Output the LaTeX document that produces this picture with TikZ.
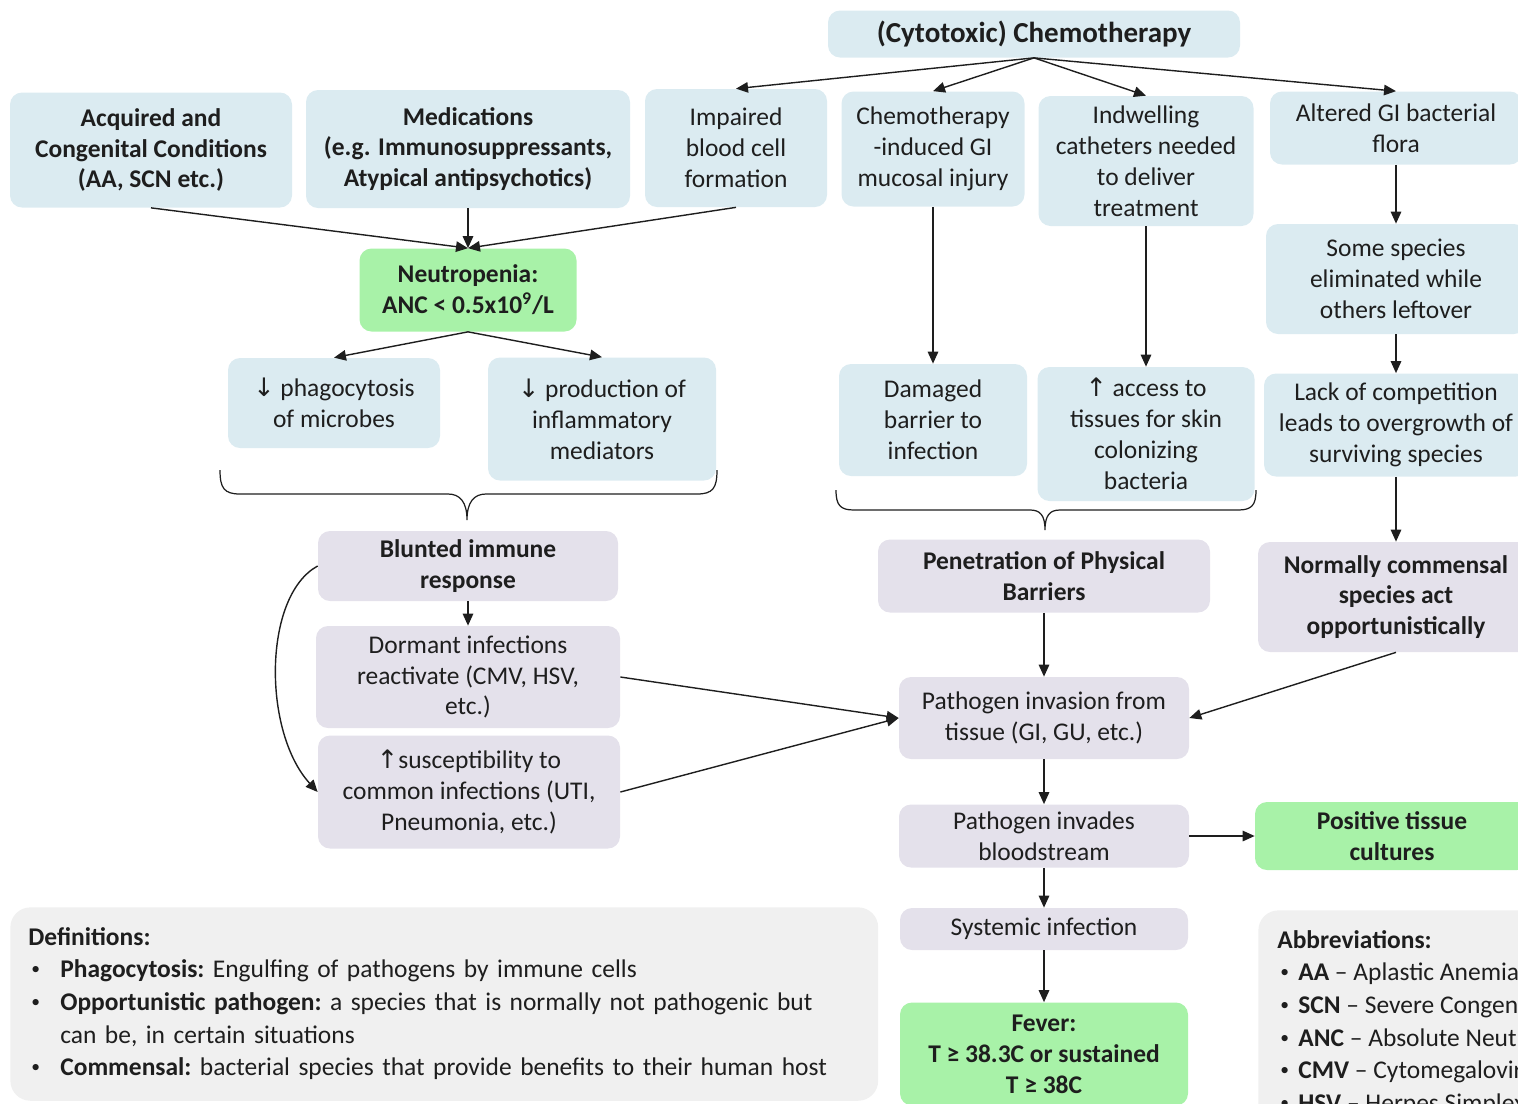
\documentclass[tikz,border=0pt]{standalone}
\usepackage{fontspec}
\setmainfont{Carlito}
\newfontfamily\dvsans{DejaVu Sans}
\usetikzlibrary{arrows.meta}

\definecolor{boxblue}{HTML}{DBEBF1}
\definecolor{boxpurple}{HTML}{E4E1EB}
\definecolor{boxgreen}{HTML}{A8F2A8}
\definecolor{boxgray}{HTML}{F0F0F0}
\definecolor{inkdark}{HTML}{1E1E1E}

\newcommand{\dn}{{\dvsans\char"2193}}
\newcommand{\up}{{\dvsans\char"2191}}
\newcommand{\bul}{\raisebox{0.12em}{\fontsize{10}{10}\selectfont\textbullet}}

\tikzset{
  box/.style={rounded corners=0.24cm, inner sep=0pt, align=center, text=inkdark,
    font=\fontsize{14.5}{17.6}\selectfont},
  bold/.style={font=\fontsize{14.5}{17.6}\selectfont\bfseries},
  bluebox/.style={box, fill=boxblue},
  purplebox/.style={box, fill=boxpurple},
  greenbox/.style={box, fill=boxgreen, bold},
  graybox/.style={rounded corners=0.4cm, fill=boxgray, text=inkdark, align=left,
    inner xsep=0.36cm, inner ysep=0.3cm, font=\fontsize{14.5}{18.6}\selectfont\frenchspacing},
  sz/.style 2 args={minimum width=#1*0.02cm, minimum height=#2*0.02cm},
  arr/.style={-{Triangle[length=0.24cm,width=0.21cm]}, line width=0.8pt, draw=inkdark},
  bracestyle/.style={line width=0.7pt, draw=inkdark},
}

\begin{document}
\begin{tikzpicture}[x=0.02cm, y=-0.02cm]
  \useasboundingbox (0,0) rectangle (1518,1103);

  % Top cause
  \node[bluebox, sz={412}{47}, font=\fontsize{16.5}{20}\selectfont\bfseries] (chemo) at (1034,34) {(Cytotoxic) Chemotherapy};

  % First row
  \node[bluebox, bold, sz={282}{115}] (acquired) at (151,150) {Acquired and\\Congenital Conditions\\(AA, SCN etc.)};
  \node[bluebox, bold, sz={324}{118}] (meds) at (468,149) {Medications\\(e.g. Immunosuppressants,\\Atypical antipsychotics)};
  \node[bluebox, sz={182}{118}] (impaired) at (736,148) {Impaired\\blood cell\\formation};
  \node[bluebox, sz={183}{115}] (giinjury) at (933,149) {Chemotherapy\\-induced GI\\mucosal injury};
  \node[bluebox, sz={215}{130}] (catheters) at (1146,161) {Indwelling\\catheters needed\\to deliver\\treatment};
  \node[bluebox, sz={252}{73}] (flora) at (1396,128) {Altered GI bacterial\\flora};

  % Neutropenia branch
  \node[greenbox, sz={217}{83}] (neutro) at (468,290) {Neutropenia:\\ANC < 0.5x10\textsuperscript{9}/L};
  \node[bluebox, sz={212}{90}] (phago) at (334,403) {\dn{} phagocytosis\\of microbes};
  \node[bluebox, sz={228}{123}] (prod) at (602,419) {\dn{} production of\\inflammatory\\mediators};
  \node[purplebox, bold, sz={300}{70}] (blunted) at (468,566) {Blunted immune\\response};
  \node[purplebox, sz={304}{102}] (dormant) at (468,677) {Dormant infections\\reactivate (CMV, HSV,\\etc.)};
  \node[purplebox, sz={302}{113}] (suscept) at (469,792) {\up{}susceptibility to\\common infections (UTI,\\Pneumonia, etc.)};

  % Barrier branch
  \node[bluebox, sz={188}{112}] (damaged) at (933,420) {Damaged\\barrier to\\infection};
  \node[bluebox, sz={217}{134}] (access) at (1146,434) {\up{} access to\\tissues for skin\\colonizing\\bacteria};
  \node[purplebox, bold, sz={332}{73}] (penetration) at (1044,576) {Penetration of Physical\\Barriers};

  % Flora branch
  \node[bluebox, sz={260}{110}] (some) at (1396,279) {Some species\\eliminated while\\others leftover};
  \node[bluebox, sz={264}{103}] (lack) at (1396,425) {Lack of competition\\leads to overgrowth of\\surviving species};
  \node[purplebox, bold, sz={276}{110}] (normally) at (1396,597) {Normally commensal\\species act\\opportunistically};

  % Common path
  \node[purplebox, sz={290}{82}] (invasion) at (1044,718) {Pathogen invasion from\\tissue (GI, GU, etc.)};
  \node[purplebox, sz={290}{63}] (blood) at (1044,836) {Pathogen invades\\bloodstream};
  \node[purplebox, sz={288}{42}] (systemic) at (1044,929) {Systemic infection};
  \node[greenbox, sz={288}{103}] (fever) at (1044,1054) {Fever:\\T ≥ 38.3C or sustained\\T ≥ 38C};
  \node[greenbox, sz={274}{68}] (positive) at (1392,836) {Positive tissue\\cultures};

  % Arrows
  \foreach \dst in {impaired, giinjury, catheters, flora}
    \draw[arr] (chemo.south) -- (\dst.north);
  \foreach \src in {acquired, meds, impaired}
    \draw[arr] (\src.south) -- (neutro.north);
  \draw[arr] (neutro.south) -- (phago.north);
  \draw[arr] (neutro.south) -- (prod.north);
  \draw[arr] (blunted.south) -- (dormant.north);
  \draw[arr] (blunted.west) .. controls +(-55,30) and +(-55,-60) .. (suscept.west);
  \draw[arr] (dormant.east) -- (invasion.west);
  \draw[arr] (suscept.east) -- (invasion.west);
  \draw[arr] (giinjury.south) -- (damaged.north);
  \draw[arr] (catheters.south) -- (access.north);
  \draw[arr] (penetration.south) -- (invasion.north);
  \draw[arr] (flora.south) -- (some.north);
  \draw[arr] (some.south) -- (lack.north);
  \draw[arr] (lack.south) -- (normally.north);
  \draw[arr] (normally.south) -- (invasion.east);
  \draw[arr] (invasion.south) -- (blood.north);
  \draw[arr] (blood.south) -- (systemic.north);
  \draw[arr] (systemic.south) -- (fever.north);
  \draw[arr] (blood.east) -- (positive.west);

  % Braces
  \draw[bracestyle] (220,470) .. controls (220,488) and (224,494) .. (240,494) -- (448,494)
    .. controls (460,494) and (467,502) .. (467,520)
    .. controls (467,502) and (474,494) .. (486,494) -- (697,494)
    .. controls (713,494) and (717,488) .. (717,470);
  \draw[bracestyle] (836,490) .. controls (836,505) and (840,510) .. (854,510) -- (1030,510)
    .. controls (1040,510) and (1045,515) .. (1045,530)
    .. controls (1045,515) and (1050,510) .. (1060,510) -- (1238,510)
    .. controls (1252,510) and (1256,505) .. (1256,490);

  % Definitions
  \node[graybox, anchor=north west, text width=16.64cm] (defs) at (10,907) {%
    \begin{tabular}{@{}p{0.64cm}@{}l@{}}
      \multicolumn{2}{@{}l}{\textbf{Definitions:}}\\
      \hspace*{0.06cm}\bul & \textbf{Phagocytosis:} Engulfing of pathogens by immune cells\\
      \hspace*{0.06cm}\bul & \textbf{Opportunistic pathogen:} a species that is normally not pathogenic but\\
       & can be, in certain situations\\
      \hspace*{0.06cm}\bul & \textbf{Commensal:} bacterial species that provide benefits to their human host
    \end{tabular}};

  % Abbreviations
  \node[graybox, anchor=north west, inner xsep=0.38cm] (abbrev) at (1258,910) {%
    \begin{tabular}{@{}p{0.42cm}@{}l@{}}
      \multicolumn{2}{@{}l}{\textbf{Abbreviations:}}\\
      \hspace*{0.06cm}\bul & \textbf{AA} – Aplastic Anemia\\
      \hspace*{0.06cm}\bul & \textbf{SCN} – Severe Congenital Neutropenia\\
      \hspace*{0.06cm}\bul & \textbf{ANC} – Absolute Neutrophil Count\\
      \hspace*{0.06cm}\bul & \textbf{CMV} – Cytomegalovirus\\
      \hspace*{0.06cm}\bul & \textbf{HSV} – Herpes Simplex Virus
    \end{tabular}};
\end{tikzpicture}
\end{document}
